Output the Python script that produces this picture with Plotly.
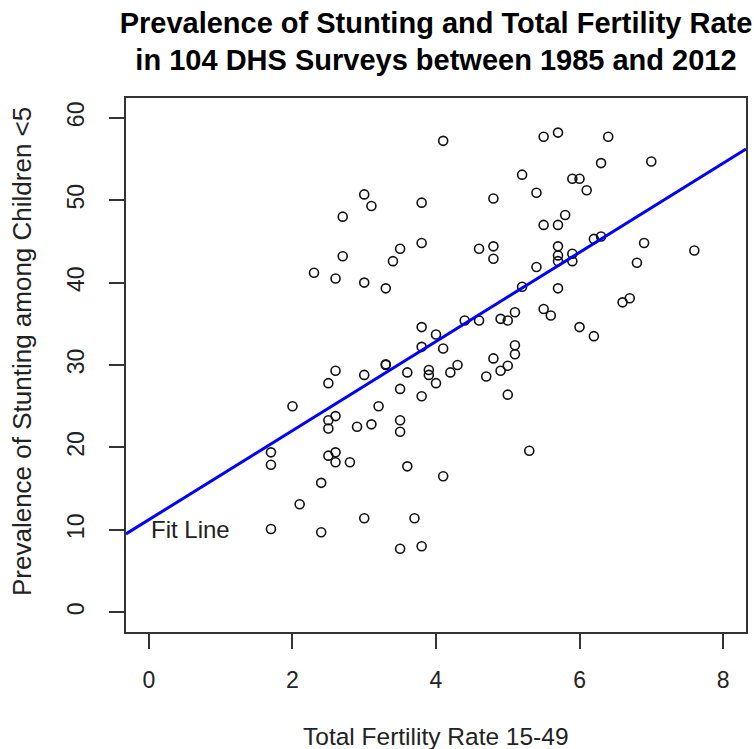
import numpy as np
import plotly.graph_objects as go

# Total fertility rate (x) and stunting prevalence (y)
tfr = [4.1, 5.2, 5.4, 3.0, 3.1, 3.8, 4.8, 2.7, 3.8, 3.5, 3.4, 4.6, 4.8, 4.8, 2.7,
       2.6, 3.0, 3.3, 5.4, 5.2, 5.1, 4.9, 5.0, 4.6, 4.4, 3.8, 4.0, 3.8, 4.1, 5.1,
       5.1, 4.8, 3.3, 5.5, 5.7, 6.4, 6.3, 7.0, 5.9, 6.0, 6.1, 5.8, 5.5, 5.7, 6.2,
       6.3, 6.9, 7.6, 5.7, 5.7, 5.7, 5.9, 5.9, 6.8, 5.7, 5.5, 5.6, 6.6, 6.7, 6.0,
       6.2, 2.3, 2.5, 2.0, 2.5, 2.5, 1.7, 1.7, 2.5, 2.4, 2.1, 1.7, 2.4, 2.6, 3.0,
       3.3, 3.6, 3.9, 3.9, 4.0, 4.2, 4.3, 4.7, 4.9, 5.0, 5.0, 3.5, 3.8, 3.2, 2.6,
       2.9, 3.1, 3.5, 3.5, 2.6, 2.6, 2.8, 3.6, 4.1, 5.3, 3.0, 3.7, 3.5, 3.8]
stunting = [57.2, 53.1, 50.9, 50.7, 49.3, 49.7, 50.2, 48.0, 44.8, 44.1, 42.6, 44.1,
            44.4, 42.9, 43.2, 40.5, 40.0, 39.3, 41.9, 39.5, 36.4, 35.6, 35.4, 35.4,
            35.4, 34.6, 33.7, 32.2, 32.0, 32.4, 31.3, 30.8, 30.1, 57.7, 58.2, 57.7,
            54.5, 54.7, 52.6, 52.6, 51.2, 48.2, 47.0, 47.0, 45.3, 45.6, 44.8, 43.9,
            44.4, 43.3, 42.6, 43.5, 42.6, 42.4, 39.3, 36.8, 36.0, 37.6, 38.1, 34.6,
            33.5, 41.2, 27.8, 25.0, 23.3, 22.3, 19.4, 17.9, 19.0, 15.7, 13.1, 10.1,
            9.7, 29.3, 28.8, 30.0, 29.1, 29.4, 28.8, 27.8, 29.1, 30.0, 28.6, 29.3,
            29.9, 26.4, 27.1, 26.2, 25.0, 23.8, 22.5, 22.8, 23.3, 21.9, 19.4, 18.2,
            18.2, 17.7, 16.5, 19.6, 11.4, 11.4, 7.7, 8.0]

x_ticks = [0, 2, 4, 6, 8]
y_ticks = [0, 10, 20, 30, 40, 50, 60]
x_range = [-0.32, 8.32]
y_range = [-2.4, 62.4]

title_text = ("<b>Prevalence of Stunting and Total Fertility Rate<br>"
              "in 104 DHS Surveys between 1985 and 2012</b>")
x_title = "Total Fertility Rate 15-49"
y_title = "Prevalence of Stunting among Children <5"
fit_label = "Fit Line"

slope, intercept = np.polyfit(tfr, stunting, 1)
fit_x = np.array(x_range)
fit_y = intercept + slope * fit_x

FONT = "Liberation Sans, Arial, sans-serif"

fig = go.Figure()
fig.add_trace(go.Scatter(
    x=tfr, y=stunting, mode="markers",
    marker=dict(symbol="circle-open", size=9, color="#111111",
                line=dict(width=1.6, color="#111111")),
    showlegend=False, hoverinfo="x+y"))
fig.add_trace(go.Scatter(
    x=fit_x, y=fit_y, mode="lines",
    line=dict(color="#0000FF", width=3),
    showlegend=False, hoverinfo="skip"))

axis_common = dict(
    showgrid=False, zeroline=False, showline=True, mirror=True,
    linecolor="#333333", linewidth=1.5, automargin=False,
    ticks="outside", ticklen=15, tickwidth=1.5, tickcolor="#333333",
    tickfont=dict(family=FONT, size=23, color="#222222"),
)

fig.update_layout(
    width=754, height=749,
    margin=dict(l=126, r=8, t=98, b=117),
    paper_bgcolor="white", plot_bgcolor="white",
    title=dict(text=title_text, x=0.5, xref="paper", xanchor="center",
               y=1 - 32.5 / 749, yref="container", yanchor="middle",
               font=dict(family=FONT, size=29, color="#000000")),
    xaxis=dict(range=x_range, tickvals=x_ticks, ticklabelstandoff=12, **axis_common),
    yaxis=dict(range=y_range, tickvals=y_ticks, tickangle=-90, ticklabelstandoff=16,
               **axis_common),
    annotations=[
        dict(text=x_title, xref="paper", yref="paper", x=0.5, y=-104 / 534,
             xanchor="center", yanchor="middle", showarrow=False,
             font=dict(family=FONT, size=24.5, color="#222222")),
        dict(text=y_title, xref="paper", yref="paper", x=-104 / 620,
             y=(632 - 352) / 534,
             xanchor="center", yanchor="middle", textangle=-90, showarrow=False,
             font=dict(family=FONT, size=26, color="#222222")),
        dict(text=fit_label, xref="x", yref="y", x=0, y=10,
             xanchor="left", yanchor="middle", xshift=0, showarrow=False,
             font=dict(family=FONT, size=24, color="#222222")),
    ],
)

fig.write_html("out.html",
               config={"displayModeBar": False},
               post_script="document.body.style.margin='0';"
                           "document.body.style.overflow='hidden';")
